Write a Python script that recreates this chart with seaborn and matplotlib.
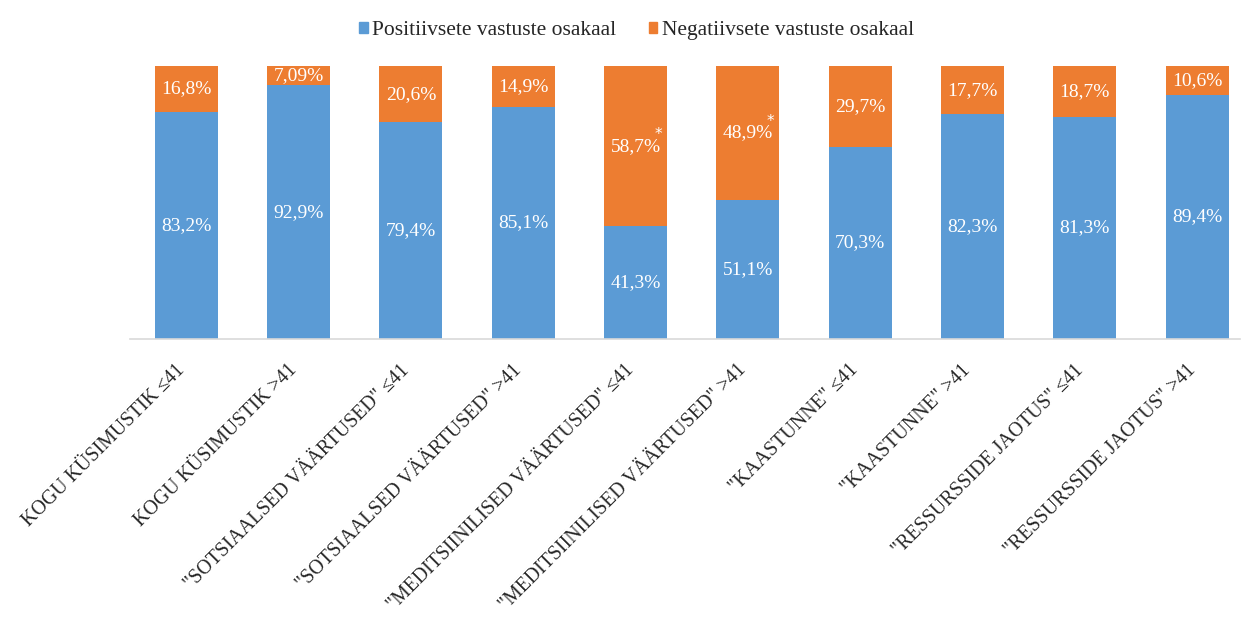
import numpy as np
import pandas as pd
import matplotlib.pyplot as plt
import matplotlib.transforms as mtransforms
import seaborn as sns
from matplotlib.patches import Patch

# Chart data
categories = [
    'KOGU KÜSIMUSTIK ≤41',
    'KOGU KÜSIMUSTIK >41',
    '"SOTSIAALSED VÄÄRTUSED" ≤41',
    '"SOTSIAALSED VÄÄRTUSED" >41',
    '"MEDITSIINILISED VÄÄRTUSED" ≤41',
    '"MEDITSIINILISED VÄÄRTUSED" >41',
    '"KAASTUNNE" ≤41',
    '"KAASTUNNE" >41',
    '"RESSURSSIDE JAOTUS" ≤41',
    '"RESSURSSIDE JAOTUS" >41',
]
positive = [83.2, 92.9, 79.4, 85.1, 41.3, 51.1, 70.3, 82.3, 81.3, 89.4]
negative = [16.8, 7.09, 20.6, 14.9, 58.7, 48.9, 29.7, 17.7, 18.7, 10.6]
positive_labels = ['83,2%', '92,9%', '79,4%', '85,1%', '41,3%', '51,1%', '70,3%', '82,3%', '81,3%', '89,4%']
negative_labels = ['16,8%', '7,09%', '20,6%', '14,9%', '58,7%', '48,9%', '29,7%', '17,7%', '18,7%', '10,6%']
significant = [False, False, False, False, True, True, False, False, False, False]

BLUE = '#5B9BD5'
ORANGE = '#ED7D31'

df = pd.DataFrame({'cat': categories, 'pos': positive, 'neg': negative})
df['total'] = df['pos'] + df['neg']

sns.set_style('white')
plt.rcParams['font.family'] = ['Liberation Serif', 'DejaVu Serif']

fig = plt.figure(figsize=(12.42, 6.19), dpi=100)
ax = fig.add_axes([0.1047, 0.4523, 0.8935, 0.4411])

# stacked bars: full height in orange, positive share on top in blue
sns.barplot(data=df, x='cat', y='total', color=ORANGE, width=0.56, saturation=1,
            linewidth=0, ax=ax)
sns.barplot(data=df, x='cat', y='pos', color=BLUE, width=0.56, saturation=1,
            linewidth=0, ax=ax)

for i in range(len(categories)):
    ax.text(i, positive[i] / 2, positive_labels[i], ha='center', va='center',
            color='white', fontsize=14)
    neg_y = positive[i] + negative[i] / 2
    ax.text(i, neg_y, negative_labels[i], ha='center', va='center',
            color='white', fontsize=14)
    if significant[i]:
        # significance mark at the upper right of the label
        ax.text(i + 0.2, neg_y + 2.6, '*', ha='center', va='baseline',
                color='white', fontsize=11, family='DejaVu Sans')

ax.set_ylim(0, 100)
ax.set_xlim(-0.5, 9.38)
ax.set_xlabel('')
ax.set_ylabel('')
ax.set_yticks([])
for s in ['top', 'right', 'left']:
    ax.spines[s].set_visible(False)
ax.spines['bottom'].set_color('#D9D9D9')
ax.spines['bottom'].set_linewidth(1.2)

ax.tick_params(axis='x', length=0, pad=2)
ax.set_xticks(range(len(categories)))
ax.set_xticklabels(categories, rotation=45, ha='right', rotation_mode='anchor',
                   fontsize=14.3, color='#262626')
offset = mtransforms.ScaledTranslation(-0.11, -0.19, fig.dpi_scale_trans)
for lbl in ax.get_xticklabels():
    lbl.set_transform(lbl.get_transform() + offset)

handles = [Patch(color=BLUE, label='Positiivsete vastuste osakaal'),
           Patch(color=ORANGE, label='Negatiivsete vastuste osakaal')]
fig.legend(handles=handles, loc='upper center', bbox_to_anchor=(0.5125, 0.997), ncol=2,
           frameon=False, fontsize=15.5, handlelength=0.4, handleheight=0.4,
           handletextpad=0.2, columnspacing=1.5)

fig.savefig('out.png', dpi=100)
